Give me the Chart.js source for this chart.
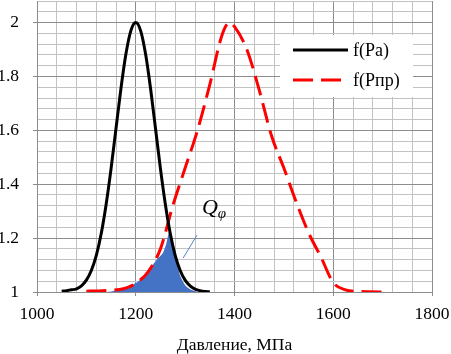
<!DOCTYPE html>
<html>
<head>
<meta charset="utf-8">
<script src="https://cdn.jsdelivr.net/npm/chart.js@4.4.1/dist/chart.umd.min.js"></script>
<style>
  body { margin: 0; background: #fff; }
  #wrap { width: 451px; height: 354px; position: relative; }
</style>
</head>
<body>
<div id="wrap"><canvas id="chart"></canvas></div>
<script>
// f(Pa) - black solid curve
const pressureA = [1050, 1060, 1070, 1080, 1090, 1100, 1110, 1120, 1130, 1140, 1150,
    1160, 1170, 1180, 1190, 1200, 1210, 1220, 1230, 1240, 1250,
    1260, 1270, 1280, 1290, 1300, 1310, 1320, 1330, 1340, 1350];
const fPa = [1.003, 1.005, 1.008, 1.012, 1.023, 1.044, 1.080, 1.135, 1.216, 1.325, 1.458,
    1.607, 1.755, 1.882, 1.969, 2.000, 1.969, 1.882, 1.755, 1.607, 1.458,
    1.325, 1.216, 1.135, 1.080, 1.044, 1.023, 1.011, 1.005, 1.002, 1.001];

// f(Pпр) - red dashed curve
const pressurePr = [1100, 1125, 1150, 1175, 1200, 1225, 1250, 1275, 1300, 1325, 1350, 1375,
    1390, 1400, 1425, 1450, 1475, 1500, 1525, 1550, 1575, 1600, 1625, 1650, 1675, 1700];
const fPpr = [1.003, 1.004, 1.007, 1.012, 1.032, 1.075, 1.16, 1.32, 1.46, 1.60, 1.77, 1.955,
    2.0, 1.985, 1.90, 1.75, 1.58, 1.46, 1.334, 1.22, 1.13, 1.035, 1.008, 1.002, 1.001, 1.0];

// Q_phi - blue filled area
const pressureQ = [1140, 1160, 1180, 1200, 1215, 1230, 1245, 1255, 1262, 1268,
    1275, 1282, 1290, 1300, 1310, 1325];
const fQ = [1.0, 1.005, 1.014, 1.033, 1.055, 1.09, 1.125, 1.145, 1.18, 1.225,
    1.17, 1.12, 1.06, 1.025, 1.01, 1.0];

const xMin = 1000, xMax = 1800, xStep = 40, xMajor = 200;
const yMin = 1, yMax = 2.08, yStep = 0.04, yMajor = 0.2;

// annotation anchors (data units)
const qLabelAt = { x: 1334, y: 1.289 };
const qLeader = [{ x: 1324, y: 1.211 }, { x: 1296, y: 1.126 }];

const serif = "'Liberation Serif', 'Times New Roman', serif";
const majorGrid = '#8c8c8c';
const minorGrid = '#c2c2c2';

function toPoints(xs, ys) {
    return xs.map((x, i) => ({ x: x, y: ys[i] }));
}

function isMajor(v, step) {
    const r = v / step;
    return Math.abs(r - Math.round(r)) < 1e-6;
}

// legend + Q label drawn over the plot
const overlayPlugin = {
    id: 'overlay',
    afterDraw(chart) {
        const ctx = chart.ctx;
        const xs = chart.scales.x;
        const ys = chart.scales.y;
        ctx.save();

        // leader line and Q label
        ctx.strokeStyle = '#5b80c4';
        ctx.lineWidth = 1;
        ctx.beginPath();
        ctx.moveTo(xs.getPixelForValue(qLeader[0].x), ys.getPixelForValue(qLeader[0].y));
        ctx.lineTo(xs.getPixelForValue(qLeader[1].x), ys.getPixelForValue(qLeader[1].y));
        ctx.stroke();

        const qx = xs.getPixelForValue(qLabelAt.x);
        const qy = ys.getPixelForValue(qLabelAt.y);
        ctx.fillStyle = '#000';
        ctx.textBaseline = 'alphabetic';
        ctx.textAlign = 'left';
        ctx.font = 'italic 22px ' + serif;
        ctx.fillText('Q', qx, qy);
        const qw = ctx.measureText('Q').width;
        ctx.font = 'italic 15px ' + serif;
        ctx.fillText('φ', qx + qw, qy + 4);

        // legend box
        const area = chart.chartArea;
        const bx = area.right - 152, by = area.top + 34, bw = 133, bh = 62;
        ctx.fillStyle = '#fff';
        ctx.fillRect(bx, by, bw, bh);

        const items = chart.data.datasets.filter(d => d.inLegend);
        items.forEach((d, i) => {
            const ly = by + 15 + i * 30;
            ctx.strokeStyle = d.borderColor;
            ctx.lineWidth = d.borderWidth;
            ctx.setLineDash(d.borderDash || []);
            ctx.beginPath();
            ctx.moveTo(bx + 13, ly);
            ctx.lineTo(bx + 68, ly);
            ctx.stroke();
            ctx.setLineDash([]);
            ctx.fillStyle = '#000';
            ctx.font = '18px ' + serif;
            ctx.textBaseline = 'middle';
            ctx.fillText(d.label, bx + 73, ly + 1);
        });
        ctx.restore();
    }
};

new Chart(document.getElementById('chart'), {
    type: 'line',
    data: {
        datasets: [
            {
                label: 'f(Pa)',
                inLegend: true,
                data: toPoints(pressureA, fPa),
                borderColor: '#000000',
                borderWidth: 3,
                pointRadius: 0,
                cubicInterpolationMode: 'monotone',
                fill: false
            },
            {
                label: 'f(Pпр)',
                inLegend: true,
                data: toPoints(pressurePr, fPpr),
                borderColor: '#ff0000',
                borderWidth: 3,
                borderDash: [20, 8],
                pointRadius: 0,
                cubicInterpolationMode: 'monotone',
                fill: false
            },
            {
                label: 'Qφ',
                data: toPoints(pressureQ, fQ),
                borderColor: '#4472c4',
                borderWidth: 0,
                backgroundColor: '#4472c4',
                pointRadius: 0,
                tension: 0.2,
                fill: { value: 1 }
            }
        ]
    },
    options: {
        responsive: true,
        maintainAspectRatio: false,
        animation: false,
        layout: { padding: { top: 1, right: 19, bottom: 0, left: 0 } },
        plugins: {
            legend: { display: false },
            tooltip: { enabled: false }
        },
        scales: {
            x: {
                type: 'linear',
                min: xMin,
                max: xMax,
                afterFit(scale) {
                    scale.height = 62;
                    scale.paddingLeft = 0;
                    scale.paddingRight = 0;
                },
                ticks: {
                    stepSize: xStep,
                    autoSkip: false,
                    maxRotation: 0,
                    padding: 8,
                    color: '#000',
                    font: { family: serif, size: 17.5 },
                    callback: v => isMajor(v, xMajor) ? String(v) : ''
                },
                grid: {
                    color: c => c.tick && isMajor(c.tick.value, xMajor) ? majorGrid : minorGrid,
                    tickColor: c => c.tick && isMajor(c.tick.value, xMajor) ? majorGrid : 'rgba(0,0,0,0)',
                    tickLength: 4,
                    lineWidth: 1
                },
                border: { color: majorGrid },
                title: {
                    display: true,
                    text: 'Давление, МПа',
                    color: '#000',
                    font: { family: serif, size: 17.5, lineHeight: 1 },
                    padding: 0
                }
            },
            y: {
                min: yMin,
                max: yMax,
                afterFit(scale) {
                    scale.width = 37;
                    scale.paddingTop = 0;
                    scale.paddingBottom = 0;
                },
                ticks: {
                    stepSize: yStep,
                    autoSkip: false,
                    padding: 14,
                    color: '#000',
                    font: { family: serif, size: 17.5 },
                    callback: v => (isMajor(v, yMajor) && v <= 2.0001) ? String(Number(v.toFixed(1))) : ''
                },
                grid: {
                    color: c => c.tick && isMajor(c.tick.value, yMajor) ? majorGrid : minorGrid,
                    tickColor: c => c.tick && isMajor(c.tick.value, yMajor) ? majorGrid : 'rgba(0,0,0,0)',
                    tickLength: 4,
                    lineWidth: 1
                },
                border: { color: majorGrid }
            }
        }
    },
    plugins: [overlayPlugin]
});
</script>
</body>
</html>
